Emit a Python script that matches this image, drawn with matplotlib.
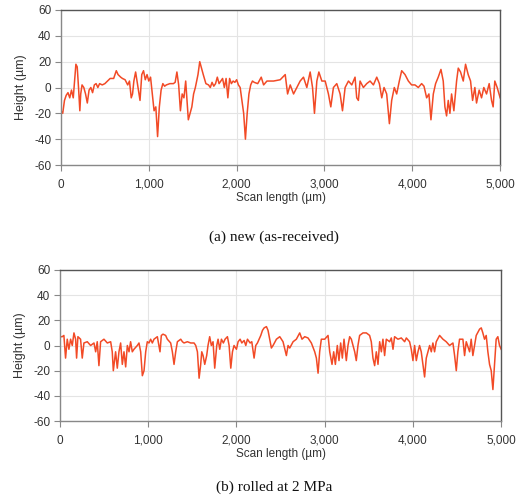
import matplotlib.pyplot as plt
import numpy as np

# surface profile, new (as-received): scan position (um) and height (um)
new_x = [0, 20, 40, 60, 80, 100, 120, 140, 160, 170, 185, 200, 215, 225, 240, 260, 280, 300,
         320, 340, 360, 380, 400, 420, 440, 470, 500, 530, 560, 600, 630, 650, 680, 700, 730,
         760, 780, 800, 815, 830, 850, 870, 900, 920, 940, 960, 980, 1000, 1020, 1040, 1060,
         1080, 1100, 1120, 1140, 1160, 1180, 1200, 1240, 1280, 1300, 1320, 1340, 1360, 1380,
         1400, 1420, 1440, 1450, 1470, 1490, 1510, 1530, 1560, 1580, 1600, 1620, 1650, 1680,
         1700, 1720, 1740, 1760, 1780, 1800, 1820, 1840, 1860, 1880, 1900, 1920, 1940, 1960,
         1980, 2000, 2020, 2040, 2060, 2080, 2100, 2120, 2140, 2160, 2180, 2200, 2240, 2280,
         2307, 2345, 2420, 2496, 2553, 2580, 2610, 2648, 2686, 2723, 2761, 2799, 2837, 2864,
         2886, 2913, 2936, 2970, 3008, 3045, 3072, 3102, 3140, 3178, 3205, 3235, 3273, 3311,
         3348, 3367, 3386, 3405, 3443, 3481, 3519, 3557, 3595, 3625, 3652, 3678, 3708, 3739,
         3765, 3795, 3822, 3852, 3879, 3917, 3955, 3992, 4030, 4068, 4106, 4133, 4163, 4189,
         4212, 4239, 4265, 4295, 4326, 4352, 4371, 4390, 4409, 4428, 4447, 4473, 4504, 4523,
         4549, 4580, 4606, 4636, 4663, 4686, 4712, 4731, 4761, 4788, 4814, 4845, 4875, 4902,
         4920, 4939, 4966, 5000]
new_h = [-18, -20, -10, -6, -4, -8, -2, -8, 10, 18, 16, 0, -18, -5, 2, 0, -5, -12,
         -2, 0, -4, 2, 3, 0, 3, 2, 3, 5, 7, 7, 13, 10, 8, 7, 6,
         2, 5, -8, -5, 5, 12, 3, -10, 10, 13, 6, 10, 5, 8, -5, -18,
         -15, -38, -15, -2, 3, 1, 2, 3, 3, 4, 12, 2, -18, -5,
         -8, 5, -15, -25, -20, -15, -5, 0, 10, 20, 15, 10, 3, 2,
         0, 4, 1, 3, 8, 3, 5, 7, 0, 7, -8, 7, 3, 5,
         4, 6, 2, 0, -10, -20, -40, -20, -5, 2, 5, 4, 3, 8,
         2, 5, 5, 6, 10, -5, 2, -5, 0, 5, 8, 0, 12, 0,
         -20, 5, 12, 5, 5, -5, -15, 0, 3, -5, -18, 0, 5, 2,
         8, -8, -10, 5, 0, 3, 5, 2, 8, 3, -8, 0, -5, -28,
         -10, 0, -5, 5, 13, 10, 5, 2, 2, 0, 3, 1, -8, -5,
         -25, -5, 3, 8, 14, 5, -15, -22, -10, -20, -5, -18, 5, 15,
         12, 5, 18, 10, 5, -10, 0, -12, -2, -8, 0, -5, 3, -10,
         -15, 5, 0, -8]

# surface profile, rolled at 2 MPa
rolled_x = [0, 26, 45, 64, 83, 102, 121, 140, 159, 178, 189, 204, 234, 253, 272, 310, 348,
            386, 405, 423, 442, 461, 499, 537, 575, 593, 605, 631, 650, 669, 688, 707, 726,
            745, 764, 783, 801, 820, 839, 877, 896, 915, 934, 953, 972, 990, 1009, 1028,
            1047, 1066, 1085, 1104, 1134, 1149, 1168, 1198, 1217, 1255, 1274, 1293, 1312,
            1331, 1369, 1388, 1406, 1444, 1482, 1520, 1539, 1558, 1577, 1595, 1607, 1622,
            1641, 1663, 1678, 1697, 1716, 1735, 1754, 1777, 1792, 1811, 1830, 1852, 1871,
            1898, 1917, 1936, 1955, 1973, 2000, 2019, 2042, 2061, 2087, 2106, 2125, 2155,
            2174, 2200, 2219, 2238, 2257, 2276, 2295, 2314, 2340, 2358, 2377, 2396, 2415,
            2453, 2491, 2528, 2566, 2585, 2604, 2642, 2679, 2717, 2743, 2774, 2811, 2849,
            2887, 2906, 2925, 2943, 2962, 3000, 3038, 3057, 3083, 3102, 3121, 3143, 3162,
            3181, 3200, 3219, 3245, 3264, 3283, 3302, 3321, 3340, 3358, 3377, 3396, 3434,
            3472, 3509, 3528, 3547, 3566, 3585, 3604, 3623, 3642, 3660, 3679, 3698, 3736,
            3755, 3774, 3792, 3830, 3868, 3906, 3925, 3962, 3981, 4000, 4019, 4038, 4057,
            4075, 4094, 4113, 4132, 4151, 4170, 4189, 4208, 4226, 4245, 4264, 4302, 4340,
            4377, 4415, 4453, 4472, 4491, 4509, 4528, 4566, 4585, 4604, 4642, 4660, 4679,
            4698, 4717, 4755, 4774, 4792, 4811, 4830, 4849, 4868, 4887, 4906, 4925, 4943,
            4962, 4981, 5000]
rolled_h = [7, 7, 8, -10, 5, -3, 5, 0, 10, 5, -10, 7, 5, -10, 2, 3, 0,
            2, -5, 3, -16, 3, 5, 2, 3, -5, -20, -5, -18, -5, 2, -15, -5,
            -17, 0, -5, 3, -5, -3, 0, 2, -5, -24, -20, -5, 3, 2, 5,
            2, 5, 6, 7, -5, 8, 9, 8, 5, 2, -5, -15, -5,
            3, 5, 3, 2, 3, 2, 2, 0, -5, -26, -15, -5, -8,
            -15, -8, 0, 7, 0, 3, -18, 0, 5, -3, 5, 2, 5,
            7, 0, -18, -5, 0, -3, 3, 5, 2, 4, 0, 5, 2,
            3, -10, 0, 2, 5, 8, 12, 14, 15, 12, 5, -2, 0,
            5, 7, 3, -8, 0, -2, 3, 5, 10, 5, 7, 6, 2,
            -5, -10, -22, -5, 5, 5, 8, -5, -15, -5, -15, 0, -12,
            2, -10, 5, -12, 0, 7, 5, 0, -5, -12, 0, 8, 10,
            10, 8, 3, -10, -16, -5, -15, 3, -5, 5, -8, 5, 3,
            6, -3, 7, 5, 6, 3, 6, 3, -3, -12, 0, -12, -5,
            0, -5, -15, -25, -10, -5, 0, -5, 2, -5, 3, 8, 5,
            3, 0, 2, -8, -20, -5, 5, 5, -8, 3, -5, 5, -8,
            0, 8, 13, 14, 10, 5, 8, -5, -15, -20, -35, -15, 5,
            7, 0, -3]

x_ticks = [0, 1000, 2000, 3000, 4000, 5000]
x_labels = ['0', '1,000', '2,000', '3,000', '4,000', '5,000']
y_ticks = [-60, -40, -20, 0, 20, 40, 60]
captions = ['(a) new (as-received)', '(b) rolled at 2 MPa']

line_color = '#f24a26'
text_color = '#333333'

plt.rcParams['font.family'] = ['Liberation Sans', 'DejaVu Sans']
plt.rcParams['axes.unicode_minus'] = False

fig = plt.figure(figsize=(5.21, 5.00), dpi=100)
ax1 = fig.add_axes([0.117, 0.670, 0.843, 0.310])
ax2 = fig.add_axes([0.115, 0.158, 0.847, 0.302])

for ax, xs, hs in [(ax1, new_x, new_h), (ax2, rolled_x, rolled_h)]:
    ax.plot(xs, hs, color=line_color, lw=1.1)
    ax.set_xlim(0, 5000)
    ax.set_ylim(-60, 60)
    ax.set_xticks(x_ticks)
    ax.set_xticklabels(x_labels)
    ax.set_yticks(y_ticks)
    ax.grid(True, color='#e4e4e4', lw=0.8)
    ax.set_axisbelow(True)
    for s in ax.spines.values():
        s.set_color('#555555')
        s.set_linewidth(1.0)
    ax.spines['left'].set_color('#888888')
    ax.spines['bottom'].set_color('#888888')
    ax.tick_params(direction='out', length=4, width=0.8, color='#888888',
                   labelsize=8.5, labelcolor=text_color)
    ax.tick_params(axis='x', pad=6)
    ax.tick_params(axis='y', pad=3)
    ax.set_xlabel('Scan length (\u00b5m)', fontsize=8.5, color=text_color, labelpad=1)
    ax.set_ylabel('Height (\u00b5m)', fontsize=9, color=text_color, labelpad=5)

fig.text(0.525, 0.526, captions[0], ha='center', va='center', fontsize=11,
         family=['Liberation Serif', 'DejaVu Serif'], color='#111111')
fig.text(0.527, 0.026, captions[1], ha='center', va='center', fontsize=11,
         family=['Liberation Serif', 'DejaVu Serif'], color='#111111')

fig.savefig('out.png', dpi=100, facecolor='white')
